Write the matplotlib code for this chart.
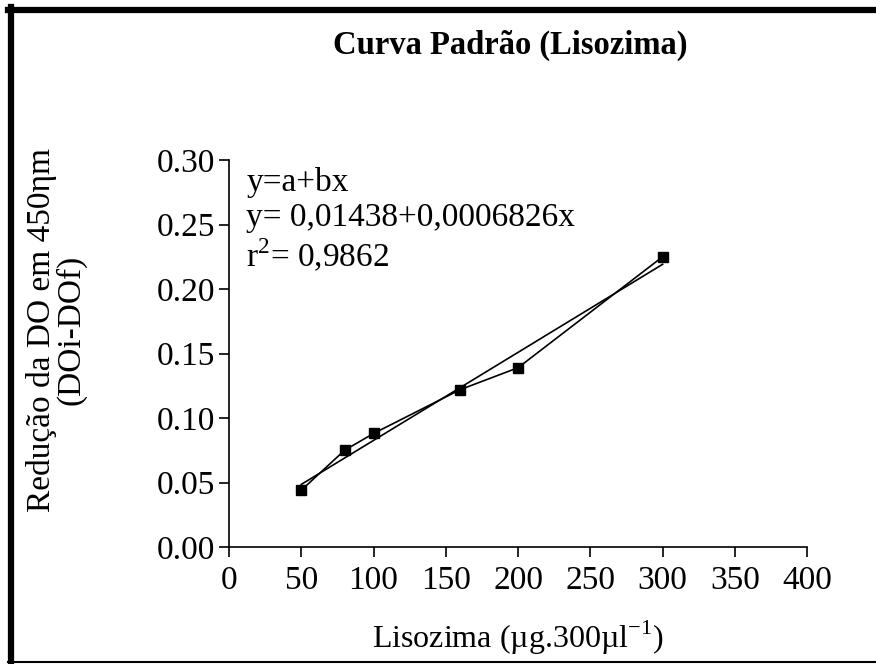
import numpy as np
import matplotlib.pyplot as plt
from matplotlib.lines import Line2D

plt.rcParams['font.family'] = ['Liberation Serif', 'DejaVu Serif']
plt.rcParams['mathtext.fontset'] = 'custom'
plt.rcParams['mathtext.rm'] = 'Liberation Serif'

# dados
lisozima = [50, 80, 100, 160, 200, 300]
reducao_do = [0.044, 0.075, 0.088, 0.122, 0.139, 0.225]

# regressão linear y = a + bx
a = 0.01438
b = 0.0006826
r2 = 0.9862

xticks = [0, 50, 100, 150, 200, 250, 300, 350, 400]
yticks = [0.00, 0.05, 0.10, 0.15, 0.20, 0.25, 0.30]

fs = 24

fig = plt.figure(figsize=(8.76, 6.64), dpi=100)
ax = fig.add_axes([0.2614, 0.1762, 0.66, 0.5828])

ax.plot(lisozima, reducao_do, color='black', lw=1.2, marker='s', ms=7.5)
xfit = np.array([min(lisozima), max(lisozima)])
ax.plot(xfit, a + b * xfit, color='black', lw=1.2)

ax.set_xlim(0, 400)
ax.set_ylim(0, 0.30)
ax.set_xticks(xticks)
ax.set_yticks(yticks)
ax.set_yticklabels(['%.2f' % v for v in yticks])
ax.tick_params(labelsize=fs, width=1.2, length=7, direction='out', pad=3)
ax.tick_params(axis='x', pad=6)
for s in ['top', 'right']:
    ax.spines[s].set_visible(False)
for s in ['left', 'bottom']:
    ax.spines[s].set_linewidth(1.2)

ax.set_xlabel('Lisozima (µg.300µl$^{\\mathrm{-1}}$)', fontsize=23)
ax.xaxis.set_label_coords(0.5, -0.185)
ax.set_ylabel('Redução da DO em 450ηm\n(DOi-DOf)', fontsize=fs,
              linespacing=0.95)
ax.yaxis.set_label_coords(-0.246, 0.56)

ax.text(0.03, 0.982, 'y=a+bx', transform=ax.transAxes, fontsize=fs,
        va='top', ha='left')
ax.text(0.03, 0.89, 'y= %s+%s' % (str(a).replace('.', ','),
                                  str(b).replace('.', ',')) + 'x',
        transform=ax.transAxes, fontsize=fs, va='top', ha='left')
ax.text(0.03, 0.80, 'r$^{\\mathrm{2}}$= ' + str(r2).replace('.', ','),
        transform=ax.transAxes, fontsize=fs, va='top', ha='left')

fig.text(0.583, 0.932, 'Curva Padrão (Lisozima)', fontsize=23.5,
         fontweight='bold', ha='center', va='center')

# moldura
fig.add_artist(Line2D([0.009, 1.0], [0.985, 0.985], color='black', lw=4.5,
                      transform=fig.transFigure))
fig.add_artist(Line2D([0.0126, 0.0126], [0.003, 0.99], color='black', lw=4.5,
                      transform=fig.transFigure))
fig.add_artist(Line2D([0.009, 1.0], [0.003, 0.003], color='black', lw=1.5,
                      transform=fig.transFigure))

fig.savefig('out.png', dpi=100)
